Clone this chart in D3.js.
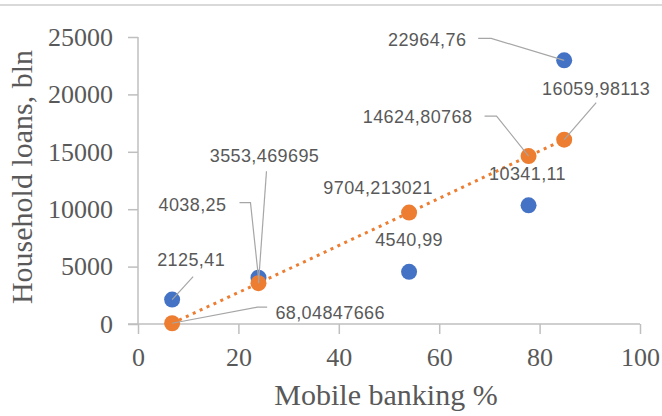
<!DOCTYPE html>
<html lang="en">
<head>
<meta charset="UTF-8">
<title>Household loans vs mobile banking</title>
<script src="https://d3js.org/d3.v7.min.js"></script>
<style>
  body { margin: 0; background: #fff; }
  svg { display: block; }
  .tick-label { font-family: "Liberation Serif", "Times New Roman", serif; font-size: 26px; fill: #595959; }
  .axis-title { font-family: "Liberation Serif", "Times New Roman", serif; font-size: 30px; fill: #595959; }
  .data-label { font-family: "Liberation Sans", Arial, sans-serif; font-size: 18px; fill: #595959; letter-spacing: 0.4px; }
</style>
</head>
<body>
<div id="chart"></div>
<script>
// Values
const mobileBanking = [6.8, 24, 54, 77.8, 84.9];
const householdLoans = [2125.41, 4038.25, 4540.99, 10341.11, 22964.76];
const fittedLoans = [68.04847666, 3553.469695, 9704.213021, 14624.80768, 16059.98113];
const loanLabels = ["2125,41", "4038,25", "4540,99", "10341,11", "22964,76"];
const fittedLabels = ["68,04847666", "3553,469695", "9704,213021", "14624,80768", "16059,98113"];
const xTicks = [0, 20, 40, 60, 80, 100];
const yTicks = [0, 5000, 10000, 15000, 20000, 25000];

// label placement (pixel offsets from the point) and leader elbows
const loanLabelPos = [
  { dx: 19, dy: -40, leader: [[21, -23]] },
  { dx: -66, dy: -73, leader: [[-19, -75], [-8, -75]] },
  { dx: 0, dy: -32 },
  { dx: -1, dy: -32 },
  { dx: -137, dy: -21, leader: [[-86, -22], [-73, -22]] }
];
const fittedLabelPos = [
  { dx: 158, dy: -11, leader: [[95, -16], [85, -16]] },
  { dx: 6, dy: -128, leader: [[8, -112]] },
  { dx: -31, dy: -25 },
  { dx: -111, dy: -39, leader: [[-44, -40], [-32, -40]] },
  { dx: 32, dy: -51, leader: [[32, -37]] }
];

const width = 662, height = 416;
const blue = "#4472C4", orange = "#ED7D31";

const svg = d3.select("#chart").append("svg")
  .attr("width", width)
  .attr("height", height);

// thin frame line across the top
svg.append("line")
  .attr("x1", 0).attr("x2", width)
  .attr("y1", 5).attr("y2", 5)
  .attr("stroke", "#D9D9D9").attr("stroke-width", 2);

const x = d3.scaleLinear().domain([0, 100]).range([138, 640]);
const y = d3.scaleLinear().domain([0, 25000]).range([324, 37]);

// axes
const xAxis = svg.append("g")
  .attr("transform", `translate(0,${y(0)})`)
  .call(d3.axisBottom(x).tickValues(xTicks).tickFormat(d3.format("d"))
    .tickSize(10).tickSizeOuter(0).tickPadding(9));
const yAxis = svg.append("g")
  .attr("transform", `translate(${x(0)},0)`)
  .call(d3.axisLeft(y).tickValues(yTicks).tickFormat(d3.format("d"))
    .tickSize(10).tickSizeOuter(0).tickPadding(15));

[xAxis, yAxis].forEach(ax => {
  ax.attr("font-family", null).attr("font-size", null);
  ax.select(".domain").attr("stroke", "#BFBFBF").attr("stroke-width", 1.5);
  ax.selectAll(".tick line").attr("stroke", "#BFBFBF").attr("stroke-width", 1.5);
  ax.selectAll(".tick text").attr("class", "tick-label").attr("fill", null);
});
// the y axis line runs from the 0 tick up to the top tick
yAxis.select(".domain").attr("d", `M0,${y(25000)}V${y(0)}`);
xAxis.select(".domain").attr("d", `M${x(0) - 10},0H${x(100)}`);
xAxis.selectAll(".tick text").attr("dy", "0.9em");

// axis titles
svg.append("text")
  .attr("class", "axis-title")
  .attr("x", 386).attr("y", 405)
  .attr("text-anchor", "middle")
  .text("Mobile banking %");
svg.append("text")
  .attr("class", "axis-title")
  .attr("transform", "translate(32,177) rotate(-90)")
  .attr("text-anchor", "middle")
  .text("Household loans, bln");

const loanPts = mobileBanking.map((m, i) => ({ x: x(m), y: y(householdLoans[i]), label: loanLabels[i], pos: loanLabelPos[i] }));
const fitPts = mobileBanking.map((m, i) => ({ x: x(m), y: y(fittedLoans[i]), label: fittedLabels[i], pos: fittedLabelPos[i] }));

// dotted orange line
svg.append("path")
  .datum(fitPts)
  .attr("fill", "none")
  .attr("stroke", orange)
  .attr("stroke-width", 3)
  .attr("stroke-dasharray", "3 4.6")
  .attr("d", d3.line().x(d => d.x).y(d => d.y));

// markers
svg.append("g").selectAll("circle")
  .data(loanPts).join("circle")
  .attr("cx", d => d.x).attr("cy", d => d.y).attr("r", 8)
  .attr("fill", blue);
svg.append("g").selectAll("circle")
  .data(fitPts).join("circle")
  .attr("cx", d => d.x).attr("cy", d => d.y).attr("r", 8)
  .attr("fill", orange);

// leader lines
const allPts = loanPts.concat(fitPts);
const leaderGen = d3.line();
svg.append("g").selectAll("path")
  .data(allPts.filter(d => d.pos.leader)).join("path")
  .attr("fill", "none")
  .attr("stroke", "#A6A6A6")
  .attr("stroke-width", 1.2)
  .attr("d", d => {
    const pts = d.pos.leader.map(p => [d.x + p[0], d.y + p[1]]);
    pts.push([d.x, d.y]);
    return leaderGen(pts);
  });

// data labels
svg.append("g").selectAll("text")
  .data(allPts).join("text")
  .attr("class", "data-label")
  .attr("x", d => d.x + d.pos.dx)
  .attr("y", d => d.y + d.pos.dy)
  .attr("dy", "0.35em")
  .attr("text-anchor", "middle")
  .text(d => d.label);
</script>
</body>
</html>
